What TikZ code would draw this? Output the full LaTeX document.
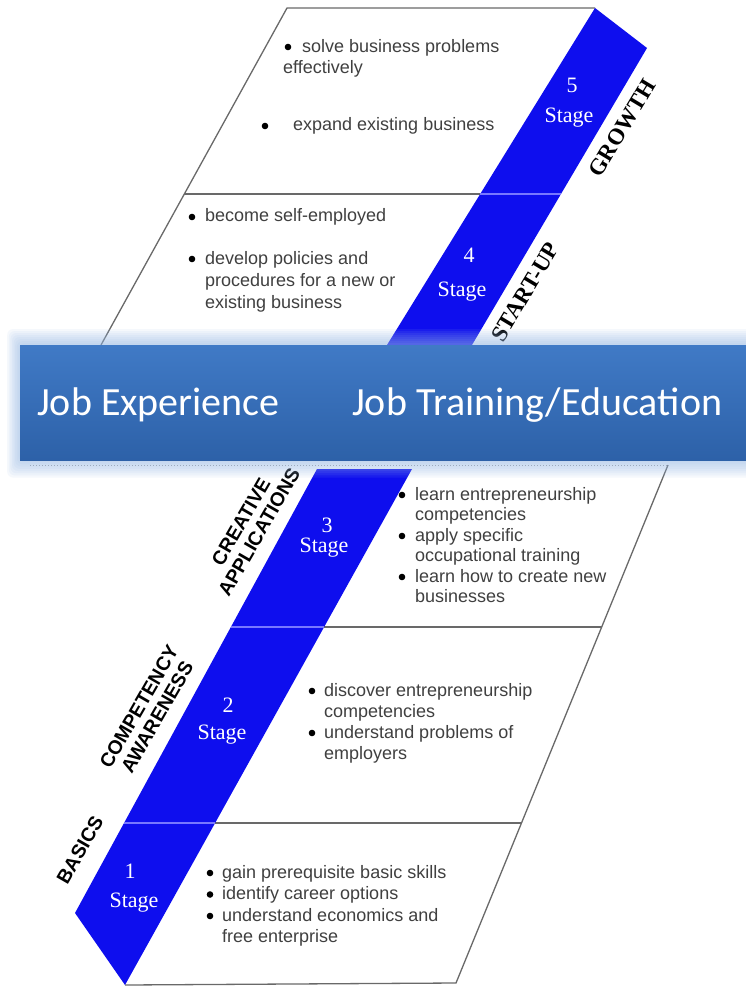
\documentclass[tikz,border=0pt]{standalone}
\usepackage{fontspec}
\setmainfont{Liberation Sans}
\newfontfamily\serifF{Liberation Serif}
\newfontfamily\calF{Carlito}
\definecolor{stageblue}{RGB}{14,14,238}
\definecolor{bandline}{RGB}{120,120,255}
\definecolor{linegray}{RGB}{105,105,105}
\definecolor{textgray}{RGB}{64,64,64}
\definecolor{bannertop}{RGB}{64,122,198}
\definecolor{bannerbot}{RGB}{45,97,168}
\definecolor{glowblue}{RGB}{150,185,230}
\tikzset{
  boxline/.style={draw=linegray, line width=1.3pt},
  bandsep/.style={draw=bandline, line width=1.4pt},
  stagetxt/.style={text=white, font=\serifF\fontsize{22}{25}\selectfont, inner sep=0pt},
  itemtxt/.style={text=textgray, font=\fontsize{18}{21}\selectfont, anchor=base west, inner sep=0pt},
  phaselbl/.style={font=\bfseries\fontsize{19.5}{21}\selectfont, align=center, rotate=60, inner sep=0pt},
  phaseserif/.style={font=\serifF\bfseries\fontsize{23}{26}\selectfont, rotate=59, inner sep=0pt},
  bannertxt/.style={text=white, font=\calF\fontsize{40}{44}\selectfont, anchor=base west, inner sep=0pt},
  bulletdot/.style={fill=black},
}
\begin{document}
\begin{tikzpicture}[x=1pt,y=-1pt]
\useasboundingbox (0,0) rectangle (746,987);
\clip (0,0) rectangle (746,987);
\fill[white] (0,0) rectangle (746,987);

% ---------- upper boxes (stages 4,5)
\coordinate (ubl) at (101,345);
\coordinate (utl) at (287,8);
\coordinate (utr) at (595,8);
\coordinate (umidl) at (184,194);
\coordinate (umidr) at (480,194);
\draw[boxline] (ubl) -- (utl) -- (utr);
\draw[boxline] (umidl) -- (umidr);

% upper band
\coordinate (ua) at (595,8);
\coordinate (ub) at (647,48);
\coordinate (uc) at (472,345);
\coordinate (ud) at (387,345);
\fill[stageblue] (ua) -- (ub) -- (uc) -- (ud) -- cycle;
\draw[bandsep] (umidr) -- (561,194);

% ---------- lower boxes (stages 1,2,3)
\coordinate (ltr) at (668,465);
\coordinate (lbr) at (456,983);
\coordinate (lbl) at (125,985);
\draw[boxline] (ltr) -- (lbr) -- (lbl);
\draw[boxline] (324,627) -- (602,627);
\draw[boxline] (215,823) -- (522,823);
\draw[linegray, line width=1pt, dotted, opacity=0.6] (30,465) -- (ltr);

% lower band
\coordinate (la) at (317,469);
\coordinate (lb) at (412,469);
\coordinate (lc) at (125,985);
\coordinate (ld) at (75,913);
\fill[stageblue] (la) -- (lb) -- (lc) -- (ld) -- cycle;
\draw[bandsep] (231,627) -- (324,627);
\draw[bandsep] (124,823) -- (215,823);

% ---------- stage labels
\node[stagetxt] (s5n) at (572,85) {5};
\node[stagetxt] (s5s) at (569,118) {Stage};
\node[stagetxt] (s4n) at (469,255) {4};
\node[stagetxt] (s4s) at (462,292) {Stage};
\node[stagetxt] (s3n) at (327,525) {3};
\node[stagetxt] (s3s) at (324,548) {Stage};
\node[stagetxt] (s2n) at (228,705) {2};
\node[stagetxt] (s2s) at (222,735) {Stage};
\node[stagetxt] (s1n) at (130,871) {1};
\node[stagetxt] (s1s) at (134,903) {Stage};

% ---------- phase labels
\node[phaseserif] (growth) at (622,128) {GROWTH};
\node[phaseserif] (startup) at (525,292) {START-UP};
\node[phaselbl] (creative) at (250,527) {CREATIVE\\APPLICATIONS};
\node[phaselbl] (compet) at (148,712) {COMPETENCY\\AWARENESS};
\node[phaselbl] (basics) at (80,850) {BASICS};

% ---------- bullets
\foreach \p in {(288,47),(265,126),(192,217),(192,259),(402,495),(402,536),(402,577),(312,691),(312,733),(210,873),(210,894.5),(210,916)}
  \fill[bulletdot] \p circle (3.3);

% ---------- item texts
\node[itemtxt] (t5a) at (302,53) {solve business problems};
\node[itemtxt] (t5b) at (283,74) {effectively};
\node[itemtxt] (t5c) at (293,131) {expand existing business};

\node[itemtxt] (t4a) at (205,222) {become self-employed};
\node[itemtxt] (t4b) at (205,264) {develop policies and};
\node[itemtxt] (t4c) at (205,286) {procedures for a new or};
\node[itemtxt] (t4d) at (205,308) {existing business};

\node[itemtxt] (t3a) at (415,500) {learn entrepreneurship};
\node[itemtxt] (t3b) at (415,520.5) {competencies};
\node[itemtxt] (t3c) at (415,541) {apply specific};
\node[itemtxt] (t3d) at (415,561.5) {occupational training};
\node[itemtxt] (t3e) at (415,582) {learn how to create new};
\node[itemtxt] (t3f) at (415,602.5) {businesses};

\node[itemtxt] (t2a) at (324,696) {discover entrepreneurship};
\node[itemtxt] (t2b) at (324,717) {competencies};
\node[itemtxt] (t2c) at (324,738) {understand problems of};
\node[itemtxt] (t2d) at (324,759) {employers};

\node[itemtxt] (t1a) at (222,878) {gain prerequisite basic skills};
\node[itemtxt] (t1b) at (222,899.5) {identify career options};
\node[itemtxt] (t1c) at (222,921) {understand economics and};
\node[itemtxt] (t1d) at (222,942.5) {free enterprise};

% ---------- banner with glow
\foreach \i in {1,...,8}
  \fill[glowblue, opacity=0.09, rounded corners=6pt] (20-1.6*\i,345-2*\i) rectangle (770,460+2.2*\i);
\shade[top color=bannertop, bottom color=bannerbot] (20,345) rectangle (770,460);
\node[bannertxt] (jobexp) at (37,415) {Job Experience};
\node[bannertxt] (jobtrain) at (352,415) {Job Training/Education};
\end{tikzpicture}
\end{document}
